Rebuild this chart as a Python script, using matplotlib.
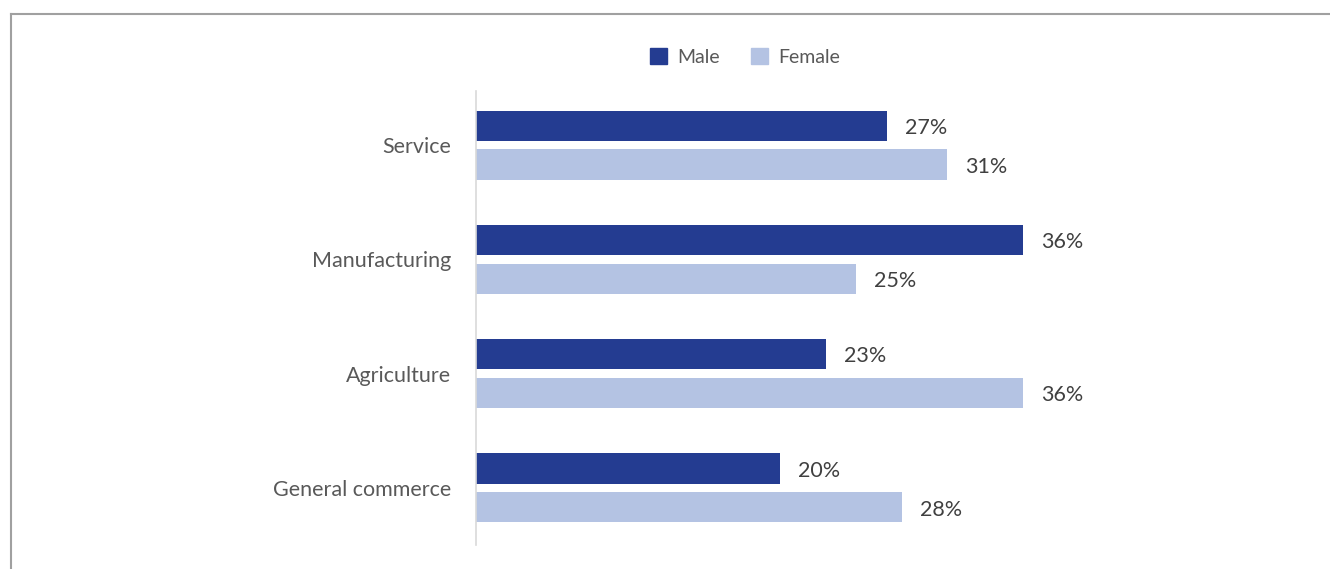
import numpy as np
import matplotlib.pyplot as plt
from matplotlib.lines import Line2D
from matplotlib.patches import Patch

plt.rcParams['font.family'] = ['Lato', 'DejaVu Sans']

# =========================
# Data
# =========================

sectors = ["Service", "Manufacturing", "Agriculture", "General commerce"]
male = [27, 36, 23, 20]
female = [31, 25, 36, 28]

male_color = "#243C91"
female_color = "#B4C3E3"

# =========================
# Figure
# =========================

W, H = 1330, 569
fig = plt.figure(figsize=(W / 100, H / 100), dpi=100)

left, right = 476, 1297
top, bottom = 88, 545
ax = fig.add_axes([left / W, 1 - bottom / H, (right - left) / W, (bottom - top) / H])

y = np.arange(len(sectors))
bar_h = 0.265
offset = 0.17

ax.barh(y - offset, male, height=bar_h, color=male_color, label="Male")
ax.barh(y + offset, female, height=bar_h, color=female_color, label="Female")

for yi, m, f in zip(y, male, female):
    ax.text(m + 1.2, yi - offset + 0.02, f"{m}%", va="center", ha="left",
            fontsize=15.5, color="#404040")
    ax.text(f + 1.2, yi + offset + 0.02, f"{f}%", va="center", ha="left",
            fontsize=15.5, color="#404040")

ax.set_xlim(0, 54)
ax.set_ylim(len(sectors) - 0.5, -0.5)
ax.set_yticks(y)
ax.set_yticklabels(sectors, fontsize=15.5, color="#595959")
ax.tick_params(axis="y", length=0, pad=18)
ax.set_xticks([])

for side in ["top", "right", "bottom"]:
    ax.spines[side].set_visible(False)
ax.spines["left"].set_color("#D9D9D9")
ax.spines["left"].set_linewidth(1.2)
ax.spines["left"].set_bounds(len(sectors) - 0.5, -0.47)

# legend
handles = [Patch(color=male_color, label="Male"),
           Patch(color=female_color, label="Female")]
fig.legend(handles=handles, loc="center", bbox_to_anchor=(745 / W, 1 - 57 / H),
           ncol=2, frameon=False, fontsize=14, labelcolor="#595959",
           handlelength=0.9, handleheight=0.9, handletextpad=0.5,
           columnspacing=1.6)

# frame lines along top and left edge
fig.add_artist(Line2D([11 / W, 1], [1 - 13.5 / H, 1 - 13.5 / H],
                      transform=fig.transFigure, color="#A0A0A0", lw=1.5))
fig.add_artist(Line2D([11 / W, 11 / W], [0, 1 - 13.5 / H],
                      transform=fig.transFigure, color="#A0A0A0", lw=1.5))

plt.savefig("out.png", dpi=100)
